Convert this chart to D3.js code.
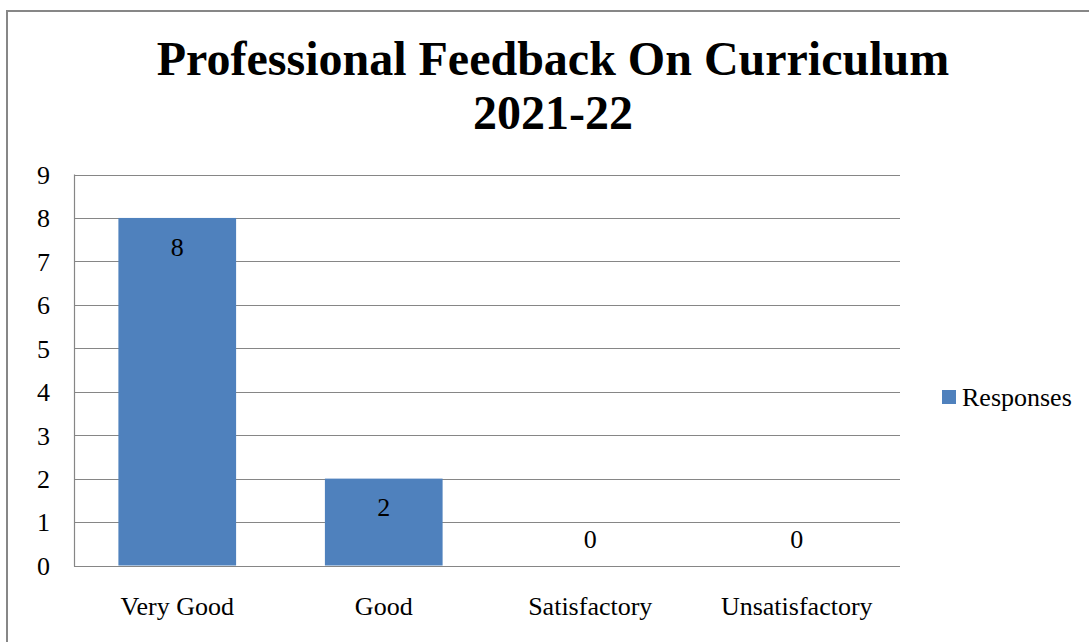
<!DOCTYPE html>
<meta charset="utf-8">
<style>
body { margin: 0; background: #fff; }
svg { display: block; font-family: "Liberation Serif", "Times New Roman", serif; }
.grid line { stroke: #868686; stroke-width: 1.2; }
.axis text { font-size: 26px; fill: #000; }
.title { font-size: 48px; font-weight: bold; fill: #000; }
</style>
<body>
<svg></svg>
<script src="https://d3js.org/d3.v7.min.js"></script>
<script>
// chart data
const categories = ["Very Good", "Good", "Satisfactory", "Unsatisfactory"];
const responses = [8, 2, 0, 0];
const yTicks = [0, 1, 2, 3, 4, 5, 6, 7, 8, 9];
const seriesName = "Responses";
const titleLines = ["Professional Feedback On Curriculum", "2021-22"];

const W = 1089, H = 642;
const plot = {left: 74, right: 900, top: 174.5, bottom: 565.5};

const svg = d3.select("svg").attr("width", W).attr("height", H);

// outer frame (only top and left visible in the reference)
svg.append("path")
  .attr("d", "M7," + H + "V11H" + W)
  .attr("fill", "none")
  .attr("stroke", "#878787")
  .attr("stroke-width", 2);

// title
svg.selectAll("text.title")
  .data(titleLines)
  .enter().append("text")
  .attr("class", "title")
  .attr("x", 553)
  .attr("y", (d, i) => 75 + i * 54)
  .attr("text-anchor", "middle")
  .text(d => d);

const x = d3.scaleBand()
  .domain(categories)
  .range([plot.left, plot.right])
  .paddingInner(0.43)
  .paddingOuter(0.215);

const y = d3.scaleLinear()
  .domain([0, 9])
  .range([plot.bottom, plot.top]);

// gridlines
svg.append("g")
  .attr("class", "grid")
  .selectAll("line")
  .data(yTicks)
  .enter().append("line")
  .attr("x1", plot.left)
  .attr("x2", plot.right)
  .attr("y1", d => Math.round(y(d)) + 0.5)
  .attr("y2", d => Math.round(y(d)) + 0.5);

// left axis line
svg.append("line")
  .attr("x1", plot.left + 0.5).attr("x2", plot.left + 0.5)
  .attr("y1", plot.top).attr("y2", plot.bottom + 1)
  .attr("stroke", "#868686").attr("stroke-width", 1.2);

// y axis labels
const yAxis = svg.append("g")
  .attr("class", "axis")
  .attr("transform", "translate(" + (plot.left - 24) + ",0)")
  .call(d3.axisLeft(y).tickValues(yTicks).tickSize(0).tickPadding(0));
yAxis.select(".domain").remove();
yAxis.selectAll("text").attr("dy", "0.34em").style("font-family", "Liberation Serif");

// x axis labels
const xAxis = svg.append("g")
  .attr("class", "axis")
  .attr("transform", "translate(0," + (plot.bottom + 49) + ")")
  .call(d3.axisBottom(x).tickSize(0).tickPadding(0));
xAxis.select(".domain").remove();
xAxis.selectAll("text").attr("dy", "0").style("font-family", "Liberation Serif");

// bars
svg.selectAll("rect.bar")
  .data(responses)
  .enter().append("rect")
  .attr("class", "bar")
  .attr("x", (d, i) => x(categories[i]))
  .attr("width", x.bandwidth())
  .attr("y", d => y(d))
  .attr("height", d => y(0) - y(d))
  .attr("fill", "#4F81BD");

// data labels
svg.selectAll("text.lbl")
  .data(responses)
  .enter().append("text")
  .attr("class", "lbl")
  .attr("x", (d, i) => x(categories[i]) + x.bandwidth() / 2)
  .attr("y", d => d > 0 ? y(d) + 29 : y(0) - 26)
  .attr("dy", "0.34em")
  .attr("text-anchor", "middle")
  .style("font-size", "26px")
  .text(d => d);

// legend
const legend = svg.append("g").attr("transform", "translate(942,390)");
legend.append("rect")
  .attr("width", 14).attr("height", 14)
  .attr("fill", "#4F81BD");
legend.append("text")
  .attr("x", 20).attr("y", 16)
  .style("font-size", "26px")
  .text(seriesName);
</script>
</body>
